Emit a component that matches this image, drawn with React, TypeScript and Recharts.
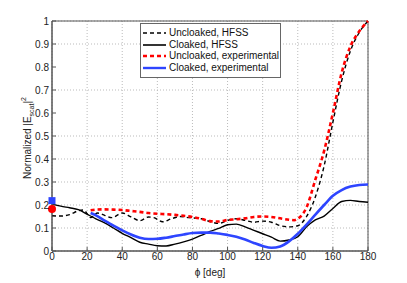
import React from "react"
import { LineChart, Line, XAxis, YAxis, CartesianGrid, Legend, Scatter, ReferenceArea, Label } from "recharts"

// phi in degrees, values normalized |E_scat|^2
const uncloakedHfssPhi = [0, 5, 10, 15, 18, 22, 26, 30, 34, 40, 45, 50, 55, 58, 63, 68, 73, 78, 85, 90, 95, 100, 105, 110, 115, 120, 125, 130, 135, 140, 145, 150, 155, 160, 165, 170, 175, 180]
const uncloakedHfssVal = [0.153, 0.152, 0.158, 0.175, 0.178, 0.145, 0.165, 0.155, 0.145, 0.165, 0.148, 0.132, 0.148, 0.145, 0.127, 0.14, 0.15, 0.145, 0.14, 0.128, 0.12, 0.133, 0.14, 0.133, 0.125, 0.13, 0.125, 0.11, 0.105, 0.11, 0.15, 0.235, 0.37, 0.56, 0.74, 0.87, 0.95, 1.0]

const cloakedHfssPhi = [0, 5, 10, 15, 20, 25, 30, 35, 40, 45, 50, 55, 60, 65, 70, 75, 80, 85, 90, 95, 100, 105, 110, 115, 120, 125, 130, 135, 140, 145, 150, 155, 160, 165, 170, 175, 180]
const cloakedHfssVal = [0.205, 0.195, 0.188, 0.18, 0.16, 0.14, 0.122, 0.1, 0.077, 0.058, 0.038, 0.03, 0.023, 0.022, 0.03, 0.04, 0.052, 0.068, 0.085, 0.098, 0.114, 0.117, 0.105, 0.09, 0.075, 0.06, 0.043, 0.048, 0.062, 0.105, 0.135, 0.152, 0.185, 0.215, 0.22, 0.215, 0.212]

const uncloakedExpPhi = [22, 25, 30, 35, 40, 45, 50, 55, 60, 65, 70, 75, 80, 85, 90, 95, 100, 105, 110, 115, 120, 125, 130, 135, 138, 140, 145, 150, 155, 160, 165, 170, 175, 180]
const uncloakedExpVal = [0.177, 0.18, 0.181, 0.18, 0.178, 0.174, 0.17, 0.165, 0.162, 0.16, 0.157, 0.153, 0.148, 0.14, 0.13, 0.128, 0.135, 0.138, 0.142, 0.148, 0.15, 0.148, 0.142, 0.136, 0.134, 0.14, 0.19, 0.31, 0.435, 0.6, 0.775, 0.89, 0.955, 1.0]

const cloakedExpPhi = [22, 25, 30, 35, 40, 45, 50, 55, 60, 65, 70, 75, 80, 85, 90, 95, 100, 105, 110, 115, 120, 125, 130, 135, 140, 145, 150, 155, 160, 165, 170, 175, 180]
const cloakedExpVal = [0.165, 0.155, 0.132, 0.11, 0.09, 0.072, 0.058, 0.052, 0.053, 0.058, 0.065, 0.072, 0.078, 0.08, 0.08, 0.076, 0.07, 0.062, 0.05, 0.035, 0.022, 0.014, 0.02, 0.042, 0.075, 0.115, 0.158, 0.2, 0.24, 0.265, 0.28, 0.287, 0.289]

// single measured points at phi = 0
const cloakedExpStart = [{ phi: 0, v: 0.219 }]
const uncloakedExpStart = [{ phi: 0, v: 0.183 }]

const xTicks = [0, 20, 40, 60, 80, 100, 120, 140, 160, 180]
const yTicks = [0, 0.1, 0.2, 0.3, 0.4, 0.5, 0.6, 0.7, 0.8, 0.9, 1]

const zip = (phi: number[], val: number[]) => phi.map((p, i) => ({ phi: p, v: val[i] }))

const series = [
  { name: "Uncloaked, HFSS", data: zip(uncloakedHfssPhi, uncloakedHfssVal), color: "#000", width: 1.4, dash: "4 3" },
  { name: "Cloaked, HFSS", data: zip(cloakedHfssPhi, cloakedHfssVal), color: "#000", width: 1.4, dash: undefined },
  { name: "Uncloaked, experimental", data: zip(uncloakedExpPhi, uncloakedExpVal), color: "#ff0000", width: 2.6, dash: "4 3" },
  { name: "Cloaked, experimental", data: zip(cloakedExpPhi, cloakedExpVal), color: "#2e45ff", width: 2.6, dash: undefined },
]

const font = "'Liberation Sans', Arial, sans-serif"
const axisColor = "#555"

function LegendBox() {
  return (
    <div style={{ boxSizing: "border-box", width: 141, border: "1px solid #666", background: "#fff", padding: "3px 0 3px 2px", fontFamily: font, fontSize: 10, lineHeight: "11.7px", color: "#111", whiteSpace: "nowrap" }}>
      {series.map((s) => (
        <div key={s.name} style={{ display: "flex", alignItems: "center", height: 11.7 }}>
          <svg width={24} height={6} style={{ marginRight: 2, flexShrink: 0 }}>
            <line x1={0} y1={3} x2={23} y2={3} stroke={s.color} strokeWidth={s.color === "#000" ? 1.6 : 2.4} strokeDasharray={s.dash} />
          </svg>
          <span>{s.name}</span>
        </div>
      ))}
    </div>
  )
}

function YLabel() {
  return (
    <text transform="translate(31,138) rotate(-90)" textAnchor="middle" fontSize={10} fontFamily={font} fill="#222">
      Normalized  |E
      <tspan fontSize={7} dy={3}>scat</tspan>
      <tspan dy={-3}>|</tspan>
      <tspan fontSize={7} dy={-5}>2</tspan>
    </text>
  )
}

function XLabel() {
  return (
    <text x={210} y={276} textAnchor="middle" fontSize={10} fontFamily={font} fill="#222">
      ϕ [deg]
    </text>
  )
}

const square = (props: any) => <rect x={props.cx - 3.5} y={props.cy - 3.5} width={7} height={7} fill="#2e45ff" />
const circle = (props: any) => <circle cx={props.cx} cy={props.cy} r={4} fill="#ff0000" />

export default function App() {
  return (
    <div style={{ position: "absolute", left: 0, top: 0, background: "#fff" }}>
      <LineChart width={407} height={283} margin={{ top: 21, right: 39, left: 0, bottom: 0 }}>
        <CartesianGrid stroke="#bbb" strokeDasharray="1 2" />
        <XAxis
          dataKey="phi"
          type="number"
          domain={[0, 180]}
          ticks={xTicks}
          height={32}
          allowDuplicatedCategory={false}
          stroke={axisColor}
          tickSize={-4}
          tickMargin={6}
          tick={{ fontSize: 10, fontFamily: font, fill: "#222" }}
        >
          <Label content={XLabel} />
        </XAxis>
        <XAxis xAxisId="top" orientation="top" type="number" domain={[0, 180]} ticks={xTicks} height={0} tick={false} tickSize={-4} stroke={axisColor} />
        <YAxis
          type="number"
          domain={[0, 1]}
          ticks={yTicks}
          width={52}
          stroke={axisColor}
          tickSize={-4}
          tickMargin={7}
          tick={{ fontSize: 10, fontFamily: font, fill: "#222" }}
        >
          <Label content={YLabel} />
        </YAxis>
        <YAxis yAxisId="right" orientation="right" type="number" domain={[0, 1]} ticks={yTicks} width={0} tick={false} tickSize={-4} stroke={axisColor} />
        <ReferenceArea x1={0} x2={180} y1={0} y2={1} fill="none" stroke={axisColor} strokeWidth={1} ifOverflow="visible" />
        {series.map((s) => (
          <Line
            key={s.name}
            data={s.data}
            dataKey="v"
            name={s.name}
            type="monotone"
            stroke={s.color}
            strokeWidth={s.width}
            strokeDasharray={s.dash}
            dot={false}
            isAnimationActive={false}
          />
        ))}
        <Scatter data={cloakedExpStart} dataKey="v" shape={square} isAnimationActive={false} />
        <Scatter data={uncloakedExpStart} dataKey="v" shape={circle} isAnimationActive={false} />
        <Legend
          layout="vertical"
          align="center"
          verticalAlign="middle"
          content={LegendBox}
          wrapperStyle={{ left: 140, top: 23, width: 141 }}
        />
      </LineChart>
    </div>
  )
}
